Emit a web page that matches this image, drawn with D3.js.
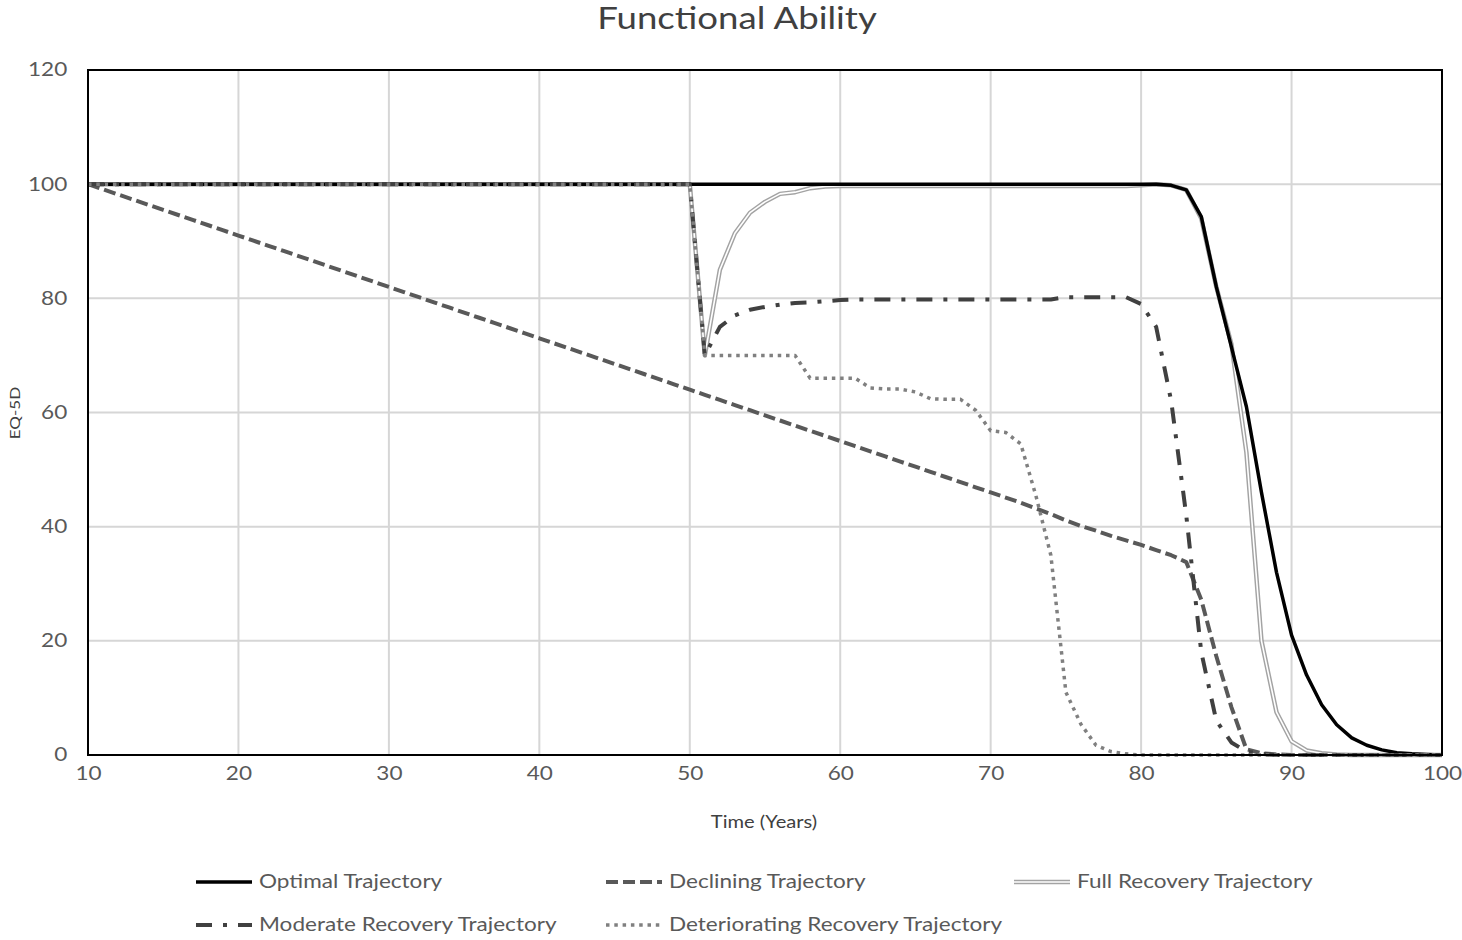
<!DOCTYPE html>
<html><head><meta charset="utf-8">
<script src="https://cdn.jsdelivr.net/npm/d3@7"></script>
<style>
body{margin:0;background:#fff}
text{font-family:Lato,"Open Sans",sans-serif}
</style>
</head><body>
<svg id="chart" width="1462" height="940"></svg>
<script>
// ---------------- data ----------------
const years = d3.range(10, 101); // 10 .. 100, one point per year
const xTicks = [10,20,30,40,50,60,70,80,90,100];
const yTicks = [0,20,40,60,80,100,120];

const optimal = [
 100,100,100,100,100,100,100,100,100,100,
 100,100,100,100,100,100,100,100,100,100,
 100,100,100,100,100,100,100,100,100,100,
 100,100,100,100,100,100,100,100,100,100,
 100,100,100,100,100,100,100,100,100,100,
 100,100,100,100,100,100,100,100,100,100,
 100,100,100,100,100,100,100,100,100,100,
 100,100,99.8,99,94.3,82,71.5,61,46,32,
 21,14,8.8,5.3,3,1.7,0.9,0.4,0.2,0.1,
 0];
const declining = [
 100,99.1,98.2,97.3,96.4,95.5,94.6,93.7,92.8,91.9,
 91.0,90.1,89.2,88.3,87.4,86.5,85.6,84.7,83.8,82.9,
 82.0,81.1,80.2,79.3,78.4,77.5,76.6,75.7,74.8,73.9,
 73.0,72.1,71.2,70.3,69.4,68.5,67.6,66.7,65.8,64.9,
 64.0,63.1,62.2,61.3,60.4,59.5,58.6,57.7,56.8,55.9,
 55.0,54.1,53.2,52.3,51.4,50.5,49.6,48.7,47.8,46.9,
 46.0,45.1,44.2,43.2,42.2,41.1,40.1,39.3,38.4,37.6,
 36.8,35.9,35.0,33.8,27.2,17.3,8.4,1.0,0.3,0.1,
 0,0,0,0,0,0,0,0,0,0,
 0];
const fullRecovery = [
 100,100,100,100,100,100,100,100,100,100,
 100,100,100,100,100,100,100,100,100,100,
 100,100,100,100,100,100,100,100,100,100,
 100,100,100,100,100,100,100,100,100,100,
 100,70,85,91.4,95,96.9,98.3,98.6,99.3,99.6,
 99.7,99.7,99.7,99.7,99.7,99.7,99.7,99.7,99.7,99.7,
 99.7,99.7,99.7,99.7,99.7,99.7,99.7,99.7,99.7,99.7,
 99.8,100,99.8,99,94,82,72,53,20,7.5,
 2.4,0.8,0.3,0.1,0,0,0,0,0,0,
 0];
const moderateRecovery = [
 100,100,100,100,100,100,100,100,100,100,
 100,100,100,100,100,100,100,100,100,100,
 100,100,100,100,100,100,100,100,100,100,
 100,100,100,100,100,100,100,100,100,100,
 100,70,75,77,78,78.5,78.9,79.2,79.3,79.5,
 79.7,79.8,79.8,79.8,79.8,79.8,79.8,79.8,79.8,79.8,
 79.8,79.8,79.8,79.8,79.8,80.2,80.2,80.2,80.2,80.2,
 79.0,75,62,42,18,6,2.2,0.6,0.2,0,
 0,0,0,0,0,0,0,0,0,0,
 0];
const deterioratingRecovery = [
 100,100,100,100,100,100,100,100,100,100,
 100,100,100,100,100,100,100,100,100,100,
 100,100,100,100,100,100,100,100,100,100,
 100,100,100,100,100,100,100,100,100,100,
 100,70,70,70,70,70,70,70,66,66,
 66,66,64.3,64.1,64.1,63.6,62.4,62.3,62.3,60.4,
 56.8,56.5,54.5,45.5,35,11,5.4,1.7,0.6,0.2,
 0,0,0,0,0,0,0,0,0,0,
 0,0,0,0,0,0,0,0,0,0,
 0];

const seriesNames = ["Optimal Trajectory","Declining Trajectory","Full Recovery Trajectory",
                     "Moderate Recovery Trajectory","Deteriorating Recovery Trajectory"];

// ---------------- styles ----------------
const styles = [
  {color:"#000000", width:3.5, dash:null},
  {color:"#595959", width:4,   dash:"12,5"},
  {color:"#a3a3a3", width:4.5, dash:null, double:true},
  {color:"#404040", width:4,   dash:"16,11,4,11"},
  {color:"#808080", width:3.5, dash:"3.5,4.8"}
];
const series = [optimal, declining, fullRecovery, moderateRecovery, deterioratingRecovery];
const drawOrder = [2, 0, 1, 3, 4];

// ---------------- layout ----------------
const SX = 1.22; // horizontal stretch of text, as in the reference
const svg = d3.select("#chart");
const x = d3.scaleLinear().domain([10,100]).range([88,1442]);
const y = d3.scaleLinear().domain([0,120]).range([755,70]);

function stext(g, tx, ty, str, size, fill, anchor){
  return g.append("text")
    .attr("transform", `translate(${tx},${ty}) scale(${SX},1)`)
    .attr("text-anchor", anchor||"start")
    .attr("font-size", size).attr("fill", fill).text(str);
}

// gridlines
svg.append("g").selectAll("line.v").data(xTicks.slice(1,-1)).join("line")
  .attr("x1", d=>x(d)).attr("x2", d=>x(d)).attr("y1", y(120)).attr("y2", y(0))
  .attr("stroke","#d6d6d6").attr("stroke-width",2);
svg.append("g").selectAll("line.h").data(yTicks.slice(1,-1)).join("line")
  .attr("y1", d=>y(d)).attr("y2", d=>y(d)).attr("x1", x(10)).attr("x2", x(100))
  .attr("stroke","#d6d6d6").attr("stroke-width",2);

// axes (labels only)
const gx = svg.append("g").attr("transform",`translate(0,${y(0)})`)
  .call(d3.axisBottom(x).tickValues(xTicks).tickSize(0).tickPadding(12).tickFormat(d3.format("d")));
gx.select(".domain").remove();
gx.selectAll("text").attr("font-size",18.5).attr("fill","#595959")
  .attr("font-family","Lato").attr("transform",`scale(${SX},1)`);

const gy = svg.append("g").attr("transform",`translate(${x(10)},0)`)
  .call(d3.axisLeft(y).tickValues(yTicks).tickSize(0).tickPadding(17).tickFormat(d3.format("d")));
gy.select(".domain").remove();
gy.selectAll("text").attr("font-size",18.5).attr("fill","#595959")
  .attr("font-family","Lato").attr("transform",`scale(${SX},1)`).attr("dx",0);

// lines
const line = d3.line().x((d,i)=>x(years[i])).y(d=>y(d));
const plot = svg.append("g");
drawOrder.forEach(k=>{
  const s = series[k], st = styles[k];
  const p = plot.append("path").datum(s).attr("d",line).attr("fill","none")
    .attr("stroke",st.color).attr("stroke-width",st.width).attr("stroke-linejoin","round");
  if(st.dash) p.attr("stroke-dasharray",st.dash);
  if(st.double){
    plot.append("path").datum(s).attr("d",line).attr("fill","none")
      .attr("stroke","#ffffff").attr("stroke-width",1.6).attr("stroke-linejoin","round");
  }
});

// frame
svg.append("rect").attr("x",x(10)).attr("y",y(120)).attr("width",x(100)-x(10)).attr("height",y(0)-y(120))
  .attr("fill","none").attr("stroke","#000").attr("stroke-width",2);

// titles
stext(svg, 737, 29, "Functional Ability", 30, "#404040", "middle");
stext(svg, 764, 828, "Time (Years)", 16.5, "#404040", "middle");
svg.append("text").attr("transform",`translate(20,413) rotate(-90) scale(${SX},1)`)
  .attr("text-anchor","middle").attr("font-size",14).attr("fill","#404040").text("EQ-5D");

// legend
const legPos = [[196,882],[606,882],[1014,882],[196,925],[606,925]];
const leg = svg.append("g");
seriesNames.forEach((name,k)=>{
  const [lx,ly] = legPos[k]; const st = styles[k];
  const l = leg.append("line").attr("x1",lx).attr("x2",lx+56).attr("y1",ly).attr("y2",ly)
    .attr("stroke",st.color).attr("stroke-width",st.width);
  if(st.dash) l.attr("stroke-dasharray",st.dash);
  if(st.double) leg.append("line").attr("x1",lx).attr("x2",lx+56).attr("y1",ly).attr("y2",ly)
    .attr("stroke","#fff").attr("stroke-width",1.6);
  stext(leg, lx+63, ly+6, name, 18.5, "#595959", "start");
});
</script>
</body></html>
